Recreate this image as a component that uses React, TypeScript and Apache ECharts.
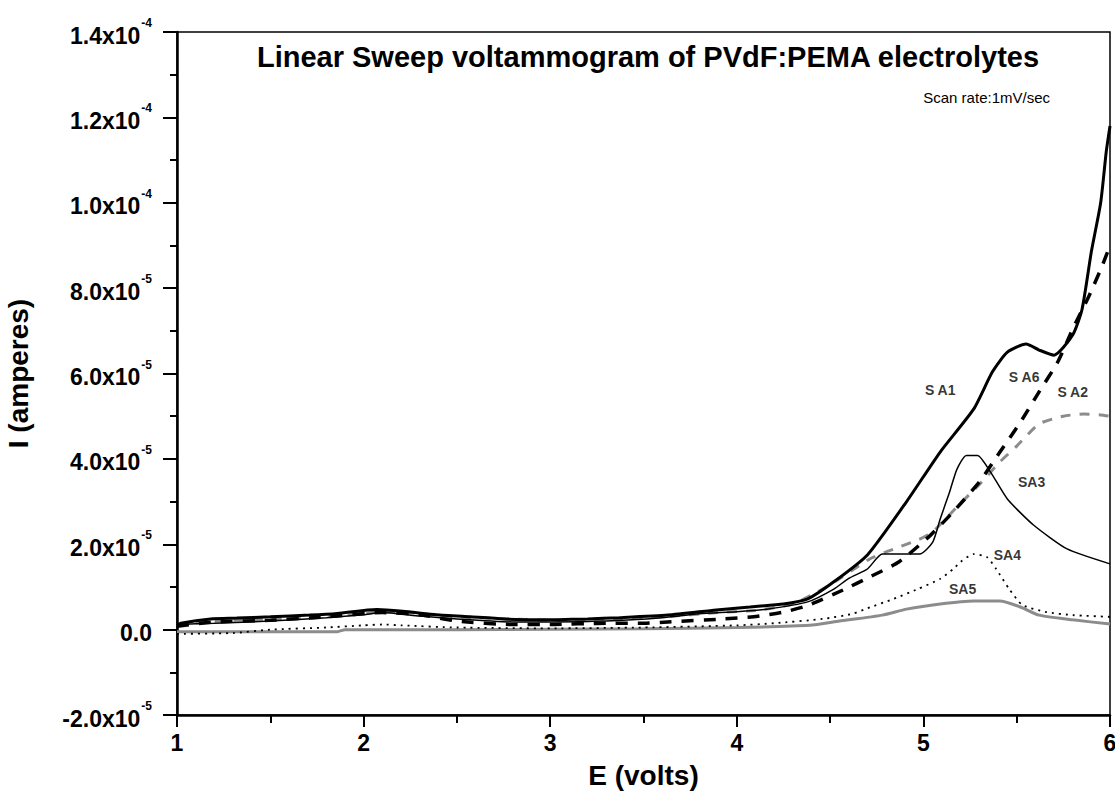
import React, { useEffect, useRef } from "react";
import * as echarts from "echarts";

// x: E (volts), y: I in units of 1e-5 A
const SA1: number[][] = [
  [1.0, 0.1], [1.02, 0.15], [1.18, 0.25], [1.32, 0.27], [1.5, 0.3], [1.71, 0.34], [1.86, 0.38],
  [2.07, 0.47], [2.21, 0.43], [2.39, 0.35], [2.57, 0.3], [2.75, 0.25], [2.93, 0.23], [3.2, 0.25],
  [3.37, 0.28], [3.63, 0.34], [3.89, 0.46], [4.07, 0.53], [4.25, 0.6], [4.38, 0.72], [4.52, 1.12],
  [4.7, 1.75], [4.91, 3.0], [5.09, 4.16], [5.27, 5.17], [5.37, 6.04], [5.45, 6.5], [5.55, 6.69],
  [5.62, 6.55], [5.7, 6.43], [5.8, 6.9], [5.85, 7.5], [5.9, 8.85], [5.95, 10.0], [5.98, 11.2], [6.0, 11.8],
];
const SA2: number[][] = [
  [1.0, 0.1], [1.2, 0.2], [1.5, 0.25], [1.8, 0.3], [2.0, 0.38], [2.1, 0.42], [2.3, 0.38], [2.5, 0.3],
  [2.8, 0.25], [3.0, 0.22], [3.3, 0.25], [3.6, 0.3], [3.9, 0.4], [4.1, 0.45], [4.3, 0.6], [4.43, 0.88],
  [4.5, 1.05], [4.71, 1.65], [4.8, 1.82], [4.98, 2.12], [5.05, 2.29], [5.19, 2.92], [5.3, 3.4],
  [5.41, 3.93], [5.5, 4.3], [5.62, 4.82], [5.75, 5.0], [5.86, 5.05], [5.95, 5.03], [6.0, 5.0],
];
const SA3: number[][] = [
  [1.0, 0.12], [1.2, 0.15], [1.5, 0.2], [1.8, 0.28], [2.0, 0.35], [2.1, 0.4], [2.3, 0.32], [2.5, 0.25],
  [2.8, 0.18], [3.0, 0.18], [3.3, 0.2], [3.6, 0.28], [3.8, 0.37], [4.0, 0.42], [4.16, 0.48], [4.38, 0.65],
  [4.52, 0.95], [4.6, 1.2], [4.7, 1.42], [4.78, 1.77], [4.98, 1.77], [5.05, 2.05], [5.09, 2.59],
  [5.14, 3.22], [5.18, 3.76], [5.23, 4.08], [5.29, 4.08], [5.36, 3.69], [5.45, 3.06], [5.59, 2.45],
  [5.77, 1.89], [6.0, 1.54],
];
const SA4: number[][] = [
  [1.0, -0.1], [1.3, -0.08], [1.5, 0.0], [1.8, 0.05], [2.0, 0.1], [2.1, 0.12], [2.2, 0.1], [2.5, 0.05],
  [3.0, 0.03], [3.5, 0.05], [4.0, 0.1], [4.2, 0.15], [4.46, 0.25], [4.62, 0.37], [4.7, 0.5], [4.84, 0.72],
  [4.97, 0.95], [5.09, 1.19], [5.16, 1.42], [5.2, 1.59], [5.27, 1.77], [5.34, 1.7], [5.39, 1.42],
  [5.46, 0.95], [5.53, 0.58], [5.66, 0.41], [5.8, 0.34], [6.0, 0.3],
];
const SA5: number[][] = [
  [1.0, -0.05], [1.5, -0.05], [1.86, -0.05], [1.9, 0.0], [2.5, 0.0], [3.0, 0.01], [3.5, 0.02], [4.0, 0.05],
  [4.39, 0.1], [4.55, 0.2], [4.78, 0.34], [4.91, 0.48], [5.09, 0.6], [5.27, 0.67], [5.41, 0.67],
  [5.52, 0.53], [5.62, 0.34], [5.8, 0.23], [6.0, 0.13],
];
const SA6: number[][] = [
  [1.0, 0.08], [1.2, 0.18], [1.5, 0.22], [1.8, 0.3], [2.1, 0.4], [2.3, 0.35], [2.5, 0.2], [2.8, 0.12],
  [3.0, 0.12], [3.3, 0.15], [3.5, 0.15], [3.63, 0.18], [3.93, 0.25], [4.09, 0.3], [4.25, 0.41], [4.39, 0.58],
  [4.57, 0.93], [4.71, 1.23], [4.87, 1.59], [5.04, 2.22], [5.16, 2.76], [5.3, 3.46], [5.41, 4.16],
  [5.52, 4.86], [5.62, 5.57], [5.72, 6.27], [5.8, 7.04], [5.89, 7.84], [5.96, 8.54], [6.0, 9.0],
];

const curveLabels = ["S A1", "S A6", "S A2", "SA3", "SA4", "SA5"];
const curveLabelPos: number[][] = [
  [5.09, 5.61], [5.54, 5.91], [5.8, 5.57], [5.58, 3.46], [5.45, 1.75], [5.21, 0.95],
];

const yTickMantissa: Record<string, string> = {
  "14": "1.4x10", "12": "1.2x10", "10": "1.0x10", "8": "8.0x10", "6": "6.0x10",
  "4": "4.0x10", "2": "2.0x10", "0": "0.0", "-2": "-2.0x10",
};
const yTickExponent: Record<string, string> = {
  "14": "-4", "12": "-4", "10": "-4", "8": "-5", "6": "-5", "4": "-5", "2": "-5", "0": "", "-2": "-5",
};

const title = "Linear Sweep voltammogram of PVdF:PEMA electrolytes";
const subtitle = "Scan rate:1mV/sec";

const FONT = "'Liberation Sans', Arial, sans-serif";

export default function App() {
  const ref = useRef<HTMLDivElement>(null);
  useEffect(() => {
    if (!ref.current) return;
    const chart = echarts.init(ref.current, undefined, { renderer: "svg" });
    const line = (name: string, data: number[][], color: string, width: number, type: any) => ({
      name,
      type: "line",
      data,
      showSymbol: false,
      symbol: "none",
      smooth: 0.2,
      lineStyle: { color, width, type },
      z: 3,
    });
    chart.setOption({
      animation: false,
      backgroundColor: "#fff",
      grid: {
        left: 177, right: 5, top: 32, bottom: 84, show: true, borderColor: "#000", borderWidth: 1.5,
        containLabel: false, outerBoundsMode: "none",
      },
      graphic: [
        {
          type: "text",
          x: 648, y: 57,
          style: { text: title, font: `bold 29px ${FONT}`, fill: "#000", align: "center", verticalAlign: "middle" },
        },
        {
          type: "text",
          x: 1050, y: 97,
          style: { text: subtitle, font: `15px ${FONT}`, fill: "#000", align: "right", verticalAlign: "middle" },
        },
      ],
      xAxis: {
        type: "value", min: 1, max: 6, interval: 1,
        name: "E (volts)", nameLocation: "middle", nameGap: 46,
        nameTextStyle: { fontFamily: FONT, fontWeight: "bold", fontSize: 28, color: "#000" },
        axisLine: { show: true, onZero: false, lineStyle: { color: "#000", width: 2.5 } },
        axisTick: { show: true, length: 12, lineStyle: { color: "#000", width: 2 } },
        minorTick: { show: true, splitNumber: 2, length: 8, lineStyle: { color: "#000", width: 2 } },
        splitLine: { show: false },
        axisLabel: { fontFamily: FONT, fontWeight: "bold", fontSize: 23, color: "#000", margin: 16 },
      },
      yAxis: {
        type: "value", min: -2, max: 14, interval: 2,
        name: "I (amperes)", nameLocation: "middle", nameGap: 145, nameRotate: 90,
        nameTextStyle: { fontFamily: FONT, fontWeight: "bold", fontSize: 28, color: "#000" },
        axisLine: { show: true, onZero: false, lineStyle: { color: "#000", width: 2.5 } },
        axisTick: { show: true, length: 14, lineStyle: { color: "#000", width: 2 } },
        minorTick: { show: true, splitNumber: 2, length: 7, lineStyle: { color: "#000", width: 2 } },
        splitLine: { show: false },
        axisLabel: {
          margin: 25,
          formatter: (v: number) => {
            const k = String(Math.round(v));
            const m = yTickMantissa[k] ?? "";
            const e = yTickExponent[k] ?? "";
            return e ? `{m|${m}}{e|${e}}` : `{m|${m}}`;
          },
          rich: {
            m: { fontFamily: FONT, fontWeight: "bold", fontSize: 23, color: "#000", lineHeight: 30, verticalAlign: "bottom" },
            e: { fontFamily: FONT, fontWeight: "bold", fontSize: 12, color: "#000", lineHeight: 30, verticalAlign: "top", padding: [0, 0, 0, 1] },
          },
        },
      },
      series: [
        line("SA5", SA5, "#8c8c8c", 3, "solid"),
        line("SA4", SA4, "#000", 1.8, [2, 5]),
        line("SA2", SA2, "#8c8c8c", 3, [10, 9]),
        line("SA3", SA3, "#000", 1.5, "solid"),
        line("SA6", SA6, "#000", 3.5, [12, 10]),
        line("SA1", SA1, "#000", 3, "solid"),
        {
          type: "scatter",
          data: curveLabelPos.map((p, i) => ({ value: p, name: curveLabels[i] })),
          symbolSize: 0,
          z: 5,
          label: {
            show: true, position: "inside",
            formatter: (p: any) => p.name,
            fontFamily: FONT, fontWeight: "bold", fontSize: 14, color: "#000",
          },
        },
      ],
    });
    return () => chart.dispose();
  }, []);
  return <div ref={ref} style={{ position: "fixed", left: 0, top: 0, width: 1115, height: 799, background: "#fff" }} />;
}
